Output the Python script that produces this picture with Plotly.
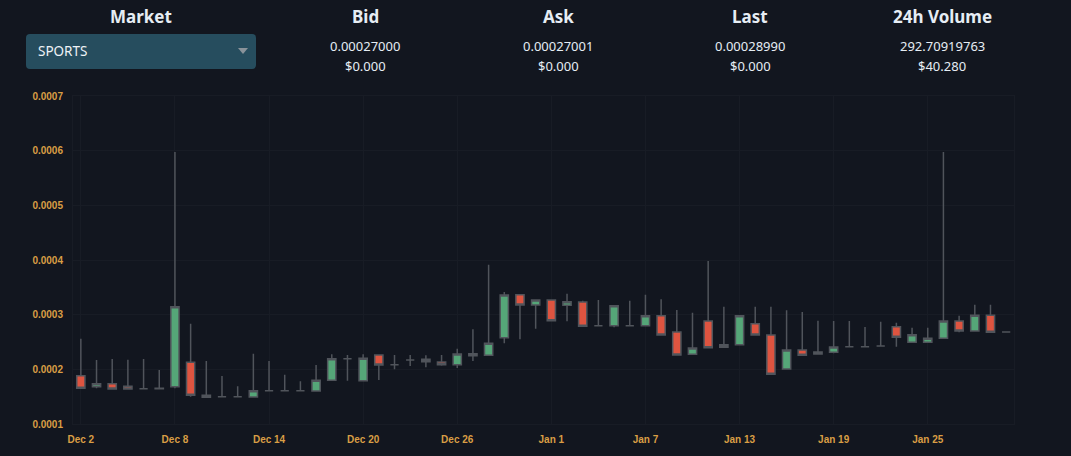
import plotly.graph_objects as go

# ---------------- data ----------------
dates = [
    "2022-12-02", "2022-12-03", "2022-12-04", "2022-12-05", "2022-12-06", "2022-12-07",
    "2022-12-08", "2022-12-09", "2022-12-10", "2022-12-11", "2022-12-12", "2022-12-13",
    "2022-12-14", "2022-12-15", "2022-12-16", "2022-12-17", "2022-12-18", "2022-12-19",
    "2022-12-20", "2022-12-21", "2022-12-22", "2022-12-23", "2022-12-24", "2022-12-25",
    "2022-12-26", "2022-12-27", "2022-12-28", "2022-12-29", "2022-12-30", "2022-12-31",
    "2023-01-01", "2023-01-02", "2023-01-03", "2023-01-04", "2023-01-05", "2023-01-06",
    "2023-01-07", "2023-01-08", "2023-01-09", "2023-01-10", "2023-01-11", "2023-01-12",
    "2023-01-13", "2023-01-14", "2023-01-15", "2023-01-16", "2023-01-17", "2023-01-18",
    "2023-01-19", "2023-01-20", "2023-01-21", "2023-01-22", "2023-01-23", "2023-01-24",
    "2023-01-25", "2023-01-26", "2023-01-27", "2023-01-28", "2023-01-29", "2023-01-30",
]
open_ = [
    0.0001884, 0.0001683, 0.0001738, 0.0001689, 0.0001646, 0.0001646,
    0.0001683, 0.0002128, 0.0001524, 0.0001500, 0.0001500, 0.0001494,
    0.0001610, 0.0001610, 0.0001610, 0.0001604, 0.0001799, 0.0002195,
    0.0001793, 0.0002262, 0.0002085, 0.0002171, 0.0002183, 0.0002134,
    0.0002085, 0.0002287, 0.0002256, 0.0002579, 0.0003366, 0.0003177,
    0.0003268, 0.0003171, 0.0003232, 0.0002799, 0.0002799, 0.0002799,
    0.0002799, 0.0002982, 0.0002683, 0.0002274, 0.0002884, 0.0002402,
    0.0002451, 0.0002835, 0.0002628, 0.0002006, 0.0002354, 0.0002280,
    0.0002311, 0.0002415, 0.0002415, 0.0002427, 0.0002780, 0.0002494,
    0.0002494, 0.0002567, 0.0002884, 0.0002701, 0.0002988, 0.0002683,
]
high = [
    0.0002561, 0.0002171, 0.0002189, 0.0002177, 0.0002189, 0.0001988,
    0.0005976, 0.0002835, 0.0002152, 0.0001878, 0.0001689, 0.0002287,
    0.0002152, 0.0001902, 0.0001780, 0.0002079, 0.0002274, 0.0002262,
    0.0002274, 0.0002262, 0.0002262, 0.0002262, 0.0002256, 0.0002262,
    0.0002378, 0.0002732, 0.0003915, 0.0003415, 0.0003366, 0.0003268,
    0.0003268, 0.0003384, 0.0003256, 0.0003268, 0.0003177, 0.0003256,
    0.0003366, 0.0003280, 0.0003085, 0.0003037, 0.0003982, 0.0003146,
    0.0002982, 0.0003146, 0.0003146, 0.0003079, 0.0003049, 0.0002890,
    0.0002884, 0.0002884, 0.0002774, 0.0002872, 0.0002854, 0.0002762,
    0.0002762, 0.0005976, 0.0002982, 0.0003183, 0.0003183, 0.0002683,
]
low = [
    0.0001640, 0.0001652, 0.0001634, 0.0001628, 0.0001640, 0.0001634,
    0.0001652, 0.0001500, 0.0001482, 0.0001494, 0.0001494, 0.0001482,
    0.0001604, 0.0001604, 0.0001604, 0.0001598, 0.0001793, 0.0001793,
    0.0001793, 0.0001805, 0.0002000, 0.0002061, 0.0002037, 0.0002067,
    0.0002024, 0.0002152, 0.0002256, 0.0002476, 0.0002549, 0.0002744,
    0.0002878, 0.0002878, 0.0002780, 0.0002793, 0.0002768, 0.0002793,
    0.0002799, 0.0002628, 0.0002250, 0.0002274, 0.0002396, 0.0002396,
    0.0002451, 0.0002628, 0.0001909, 0.0002006, 0.0002256, 0.0002280,
    0.0002293, 0.0002415, 0.0002415, 0.0002427, 0.0002415, 0.0002494,
    0.0002494, 0.0002567, 0.0002677, 0.0002701, 0.0002677, 0.0002683,
]
close = [
    0.0001652, 0.0001738, 0.0001640, 0.0001640, 0.0001646, 0.0001652,
    0.0003146, 0.0001524, 0.0001488, 0.0001500, 0.0001500, 0.0001610,
    0.0001610, 0.0001610, 0.0001610, 0.0001799, 0.0002195, 0.0002195,
    0.0002201, 0.0002079, 0.0002085, 0.0002171, 0.0002140, 0.0002085,
    0.0002280, 0.0002250, 0.0002476, 0.0003360, 0.0003177, 0.0003268,
    0.0002890, 0.0003238, 0.0002787, 0.0002799, 0.0003165, 0.0002799,
    0.0002982, 0.0002628, 0.0002262, 0.0002390, 0.0002396, 0.0002451,
    0.0002982, 0.0002628, 0.0001909, 0.0002354, 0.0002256, 0.0002317,
    0.0002409, 0.0002415, 0.0002415, 0.0002427, 0.0002585, 0.0002634,
    0.0002567, 0.0002884, 0.0002701, 0.0002988, 0.0002677, 0.0002683,
]

x_tickvals = ["2022-12-02", "2022-12-08", "2022-12-14", "2022-12-20", "2022-12-26",
              "2023-01-01", "2023-01-07", "2023-01-13", "2023-01-19", "2023-01-25"]
x_ticktext = ["Dec 2", "Dec 8", "Dec 14", "Dec 20", "Dec 26",
              "Jan 1", "Jan 7", "Jan 13", "Jan 19", "Jan 25"]
y_tickvals = [0.0001, 0.0002, 0.0003, 0.0004, 0.0005, 0.0006, 0.0007]
y_ticktext = ["0.0001", "0.0002", "0.0003", "0.0004", "0.0005", "0.0006", "0.0007"]

header_titles = ["Market", "Bid", "Ask", "Last", "24h Volume"]
header_values = ["0.00027000", "0.00027001", "0.00028990", "292.70919763"]
header_usd = ["$0.000", "$0.000", "$0.000", "$40.280"]
market_name = "SPORTS"

# ---------------- layout geometry ----------------
W, H = 1071, 456
L, R, T, B = 73, 1014, 96, 424
BG = "#12161f"
TXT = "#e6edf4"
TICK = "#d99e45"
GRID = "#181c25"


def px(x):
    return (x - L) / (R - L)


def py(y):
    return (B - y) / (B - T)


fig = go.Figure()
fig.add_trace(go.Candlestick(
    x=dates, open=open_, high=high, low=low, close=close,
    increasing=dict(fillcolor="#55a678", line=dict(color="#50545b", width=1.5)),
    decreasing=dict(fillcolor="#de5440", line=dict(color="#50545b", width=1.5)),
    showlegend=False,
))

annotations = []
title_x = [141, 365, 558, 750, 942]
for t, xc in zip(header_titles, title_x):
    annotations.append(dict(
        x=px(xc), y=py(17), xref="paper", yref="paper", text=f"<b>{t}</b>",
        showarrow=False, xanchor="center", yanchor="middle",
        font=dict(family="Noto Sans", size=17, color=TXT)))
for v, u, xc in zip(header_values, header_usd, title_x[1:]):
    annotations.append(dict(
        x=px(xc), y=py(46), xref="paper", yref="paper", text=v,
        showarrow=False, xanchor="center", yanchor="middle",
        font=dict(family="Noto Sans", size=13, color=TXT)))
    annotations.append(dict(
        x=px(xc), y=py(66), xref="paper", yref="paper", text=u,
        showarrow=False, xanchor="center", yanchor="middle",
        font=dict(family="Noto Sans", size=13, color=TXT)))
annotations.append(dict(
    x=px(36), y=py(51.5), xref="paper", yref="paper", text=market_name,
    showarrow=False, xanchor="left", yanchor="middle",
    font=dict(family="Noto Sans", size=13.5, color="#eef3f7")))


def rounded_rect(x0, y0, x1, y1, r):
    X0, X1 = px(x0), px(x1)
    Y0, Y1 = py(y0), py(y1)  # Y0 top (larger), Y1 bottom
    rx = r / (R - L)
    ry = r / (B - T)
    return (f"M {X0+rx},{Y0} L {X1-rx},{Y0} Q {X1},{Y0} {X1},{Y0-ry} "
            f"L {X1},{Y1+ry} Q {X1},{Y1} {X1-rx},{Y1} "
            f"L {X0+rx},{Y1} Q {X0},{Y1} {X0},{Y1+ry} "
            f"L {X0},{Y0-ry} Q {X0},{Y0} {X0+rx},{Y0} Z")


shapes = [
    dict(type="path", xref="paper", yref="paper",
         path=rounded_rect(26, 34, 256, 69, 4),
         fillcolor="#264d5e", line=dict(width=0), layer="above"),
    dict(type="path", xref="paper", yref="paper",
         path=f"M {px(238)},{py(48)} L {px(248)},{py(48)} L {px(243)},{py(54)} Z",
         fillcolor="#8a939a", line=dict(width=0), layer="above"),
]

fig.update_layout(
    width=W, height=H,
    margin=dict(l=L, r=W - R, t=T, b=H - B, pad=0),
    paper_bgcolor=BG, plot_bgcolor=BG,
    boxgap=0.25,
    annotations=annotations,
    shapes=shapes,
    showlegend=False,
    xaxis=dict(
        type="date",
        range=["2022-12-01 12:00", "2023-01-30 12:00"],
        rangeslider=dict(visible=False),
        tickmode="array", tickvals=x_tickvals, ticktext=x_ticktext,
        tickfont=dict(family="Liberation Sans", size=10, color=TICK, weight="bold"),
        showgrid=True, gridcolor=GRID, gridwidth=1,
        showline=True, linecolor=GRID, mirror=True,
        zeroline=False, ticks="", ticklabelstandoff=6,
    ),
    yaxis=dict(
        range=[0.0001, 0.0007],
        tickmode="array", tickvals=y_tickvals, ticktext=y_ticktext,
        tickfont=dict(family="Liberation Sans", size=10, color=TICK, weight="bold"),
        showgrid=True, gridcolor=GRID, gridwidth=1,
        showline=True, linecolor=GRID, mirror=True,
        zeroline=False, ticks="", ticklabelstandoff=7,
    ),
)

fig.write_html(
    "out.html",
    config={"displayModeBar": False},
    post_script="document.body.style.margin='0px';document.body.style.background='%s';" % BG,
)
